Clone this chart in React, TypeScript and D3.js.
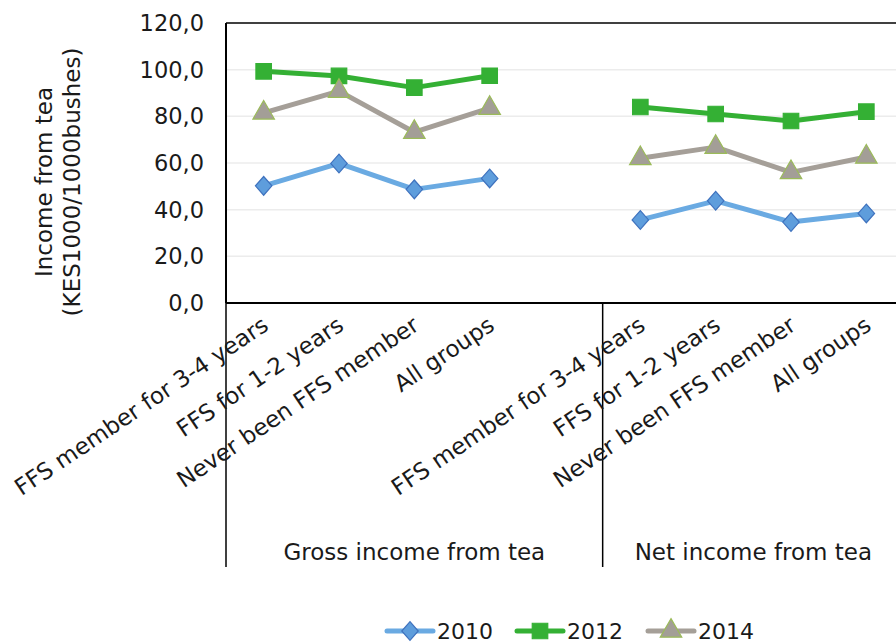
import { useEffect, useRef } from "react";
import * as d3 from "d3";

// categories and groups
const categories = ["FFS member for 3-4 years", "FFS for 1-2 years", "Never been FFS member", "All groups"];
const groups = ["Gross income from tea", "Net income from tea"];
const years = ["2010", "2012", "2014"];

// values (gross, net)
const gross2010 = [50.2, 59.8, 48.7, 53.4];
const gross2012 = [99.3, 97.3, 92.3, 97.4];
const gross2014 = [81.5, 90.8, 73.2, 83.5];
const net2010 = [35.6, 43.8, 34.7, 38.4];
const net2012 = [84.0, 81.0, 78.0, 82.0];
const net2014 = [62.0, 66.8, 56.0, 62.6];

const yTicks = [0, 20, 40, 60, 80, 100, 120];

const FONT = "'DejaVu Sans', Verdana, sans-serif";

// wider diamond than d3's built-in one
const diamond = {
  draw(ctx: any, size: number) {
    const r = Math.sqrt(size / 2);
    ctx.moveTo(0, -r * 1.08);
    ctx.lineTo(r * 0.95, 0);
    ctx.lineTo(0, r * 1.08);
    ctx.lineTo(-r * 0.95, 0);
    ctx.closePath();
  },
};

export default function App() {
  const ref = useRef<SVGSVGElement>(null);

  useEffect(() => {
    const W = 896;
    const H = 644;
    const left = 226;
    const right = 904;
    const top = 23;
    const bottom = 303;

    const svg = d3.select(ref.current).attr("width", W).attr("height", H);
    svg.selectAll("*").remove();

    // 9 slots: 4 gross, one empty, 4 net
    const slots = [
      ...categories.map((c, i) => `g${i}`),
      "gap",
      ...categories.map((c, i) => `n${i}`),
    ];
    const x = d3.scaleBand().domain(slots).range([left, right]);
    const cx = (k: string) => x(k)! + x.bandwidth() / 2;
    const y = d3.scaleLinear().domain([0, 120]).range([bottom, top]);

    // gridlines
    svg
      .append("g")
      .selectAll("line")
      .data(yTicks.filter((t) => t > 0 && t < 120))
      .enter()
      .append("line")
      .attr("x1", left)
      .attr("x2", right)
      .attr("y1", (d) => y(d))
      .attr("y2", (d) => y(d))
      .attr("stroke", "#ececec")
      .attr("stroke-width", 1.5);

    // frame
    svg.append("line").attr("x1", left).attr("x2", right).attr("y1", top).attr("y2", top).attr("stroke", "#000").attr("stroke-width", 1.5);
    svg.append("line").attr("x1", left).attr("x2", left).attr("y1", top).attr("y2", bottom).attr("stroke", "#000").attr("stroke-width", 2);
    svg.append("line").attr("x1", left).attr("x2", right).attr("y1", bottom).attr("y2", bottom).attr("stroke", "#000").attr("stroke-width", 2);

    // y tick labels
    svg
      .append("g")
      .selectAll("text")
      .data(yTicks)
      .enter()
      .append("text")
      .attr("x", 204)
      .attr("y", (d) => y(d))
      .attr("dy", "0.36em")
      .attr("text-anchor", "end")
      .style("font-family", FONT)
      .style("font-size", "22.5px")
      .style("fill", "#1a1a1a")
      .text((d) => d3.format(".1f")(d).replace(".", ","));

    // y title
    const yt = svg
      .append("text")
      .attr("transform", "translate(52,182) rotate(-90)")
      .attr("text-anchor", "middle")
      .style("font-family", FONT)
      .style("font-size", "23px")
      .style("fill", "#1a1a1a");
    yt.append("tspan").attr("x", 0).attr("y", 0).text("Income from tea");
    yt.append("tspan").attr("x", 0).attr("y", 28).text("(KES1000/1000bushes)");

    // category separators
    const seps = [left, x("n0")!, right];
    svg
      .append("g")
      .selectAll("line")
      .data(seps)
      .enter()
      .append("line")
      .attr("x1", (d) => d)
      .attr("x2", (d) => d)
      .attr("y1", bottom)
      .attr("y2", 567)
      .attr("stroke", "#000")
      .attr("stroke-width", 1.5);

    // rotated category labels
    const catLabels = [
      ...categories.map((c, i) => ({ key: `g${i}`, text: c })),
      ...categories.map((c, i) => ({ key: `n${i}`, text: c })),
    ];
    svg
      .append("g")
      .selectAll("text")
      .data(catLabels)
      .enter()
      .append("text")
      .attr("transform", (d) => `translate(${cx(d.key) - 3},${bottom + 12}) rotate(-34)`)
      .attr("dy", "0.72em")
      .attr("text-anchor", "end")
      .style("font-family", FONT)
      .style("font-size", "23px")
      .style("fill", "#1a1a1a")
      .text((d) => d.text);

    // group labels
    svg
      .append("g")
      .selectAll("text")
      .data(groups)
      .enter()
      .append("text")
      .attr("x", (d, i) => (i === 0 ? (left + x("n0")!) / 2 : (x("n0")! + right) / 2))
      .attr("y", 560)
      .attr("text-anchor", "middle")
      .style("font-family", FONT)
      .style("font-size", "23px")
      .style("fill", "#1a1a1a")
      .text((d) => d);

    const series = [
      { name: years[0], gross: gross2010, net: net2010, line: "#6aaae2", fill: "#5e9ddc", stroke: "#3f72be", shape: diamond, size: 150 },
      { name: years[1], gross: gross2012, net: net2012, line: "#34b034", fill: "#34b034", stroke: "#34b034", shape: d3.symbolSquare, size: 240 },
      { name: years[2], gross: gross2014, net: net2014, line: "#a59f98", fill: "#a39e97", stroke: "#9bbb59", shape: d3.symbolTriangle, size: 200 },
    ];

    const line = d3
      .line<{ k: string; v: number }>()
      .x((d) => cx(d.k))
      .y((d) => y(d.v));

    series.forEach((s) => {
      const parts = [
        s.gross.map((v, i) => ({ k: `g${i}`, v })),
        s.net.map((v, i) => ({ k: `n${i}`, v })),
      ];
      parts.forEach((p) => {
        svg
          .append("path")
          .attr("d", line(p)!)
          .attr("fill", "none")
          .attr("stroke", s.line)
          .attr("stroke-width", 5)
          .attr("stroke-linejoin", "round");
        svg
          .append("g")
          .selectAll("path")
          .data(p)
          .enter()
          .append("path")
          .attr("d", d3.symbol().type(s.shape as any).size(s.size)()!)
          .attr("transform", (d) => `translate(${cx(d.k)},${y(d.v)})`)
          .attr("fill", s.fill)
          .attr("stroke", s.stroke)
          .attr("stroke-width", 1.2);
      });
    });

    // legend
    const legendX = [387, 517, 648];
    const lg = svg
      .append("g")
      .selectAll("g")
      .data(series)
      .enter()
      .append("g")
      .attr("transform", (d, i) => `translate(${legendX[i]},631)`);
    lg.append("line")
      .attr("x1", 0)
      .attr("x2", 46)
      .attr("stroke", (d) => d.line)
      .attr("stroke-width", 5)
      .attr("stroke-linecap", "round");
    lg.append("path")
      .attr("d", (d) => d3.symbol().type(d.shape as any).size(d.size)()!)
      .attr("transform", "translate(23,0)")
      .attr("fill", (d) => d.fill)
      .attr("stroke", (d) => d.stroke)
      .attr("stroke-width", 1.2);
    lg.append("text")
      .attr("x", 50)
      .attr("dy", "0.36em")
      .style("font-family", FONT)
      .style("font-size", "22px")
      .style("fill", "#1a1a1a")
      .text((d) => d.name);
  }, []);

  return (
    <div style={{ position: "absolute", left: 0, top: 0, width: 896, height: 644, background: "#fff" }}>
      <svg ref={ref}></svg>
    </div>
  );
}
